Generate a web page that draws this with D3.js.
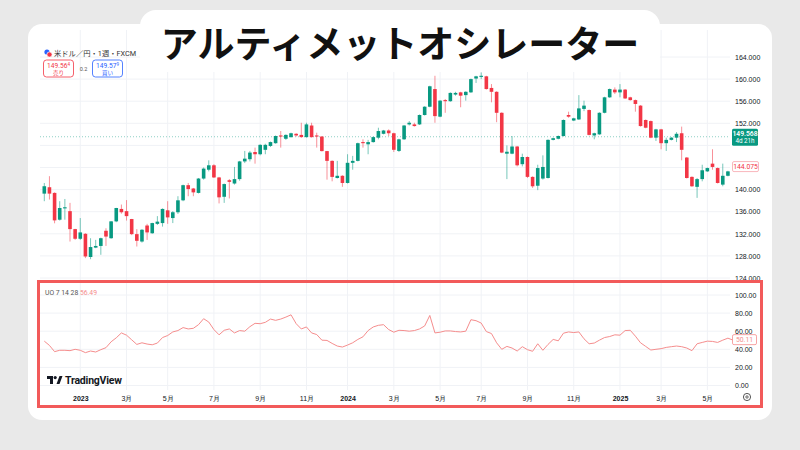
<!DOCTYPE html>
<html lang="ja">
<head>
<meta charset="utf-8">
<title>アルティメットオシレーター</title>
<script src="https://d3js.org/d3.v7.min.js"></script>
<style>
  body { margin: 0; background: #e9e9e9; }
  svg { display: block; font-family: Roboto, "Noto Sans CJK JP", sans-serif; }
</style>
</head>
<body>
<script>
// 米ドル/円 週足 (2022-11-14 の週から)
var opens  = [139.27,140.43,139.4,134.55,136.6,136.1,132.85,131.1,132.0,127.8,129.5,129.8,132.55,131.2,134.25,136.5,136.1,134.67,131.94,130.6,
              133.5,132.1,133.8,133.94,136.25,134.85,135.9,138.06,140.8,140.2,139.4,142.0,143.6,144.4,142.2,138.7,141.7,141.1,141.9,145.1,
              145.5,146.8,146.4,147.2,147.9,148.4,149.8,149.2,149.5,150.1,149.9,149.5,151.6,149.8,149.6,146.97,145.2,142.1,142.5,141.2,
              144.85,145.2,148.6,148.2,148.6,149.4,150.1,150.7,150.2,147.0,149.1,151.8,151.8,151.8,153.5,155.0,158.2,153.2,156.2,156.0,
              157.2,157.6,157.1,157.6,160.1,160.4,160.5,158.4,157.7,153.9,146.5,146.5,147.8,144.6,145.9,142.3,140.7,142.0,142.1,149.0,
              149.2,149.7,153.5,152.5,152.7,154.6,154.4,149.8,150.0,153.9,156.7,158.1,157.6,158.1,156.7,156.2,155.2,152.6,152.4,149.4,
              150.9,148.4,149.0,149.4,150.2,145.8,142.3,140.5,141.9,143.3,144.7,143.9,140.9,142.5,144.3];
var highs  = [141.2,142.43,139.5,137.9,138.3,137.6,132.9,134.85,132.1,131.2,130.9,131.3,133.0,134.3,136.7,137.3,138.1,134.7,132.85,132.85,
              133.8,134.0,135.2,136.6,137.9,136.1,138.8,140.9,141.2,140.3,142.1,144.0,145.3,144.6,142.3,141.1,141.9,144.1,145.2,147.0,
              147.0,147.6,148.2,148.3,148.7,149.8,150.6,150.0,150.3,150.2,152.1,152.1,152.1,150.3,149.7,147.0,145.3,145.2,142.6,146.4,
              146.1,148.5,149.1,149.0,149.6,151.2,150.8,150.9,150.3,149.2,151.7,152.4,152.1,153.6,155.1,158.8,160.6,156.2,156.4,157.6,
              157.7,157.7,157.8,160.1,160.6,161.2,160.6,159.1,157.8,154.0,148.0,149.7,147.9,146.5,146.0,142.4,144.5,146.2,149.1,149.4,
              149.8,152.7,154.1,153.0,157.1,156.1,154.5,150.3,154.0,156.8,158.3,158.5,159.1,158.2,156.8,156.3,155.3,152.7,152.5,151.0,
              151.0,149.4,149.5,150.4,151.4,145.9,142.4,142.1,144.5,144.0,147.3,144.0,144.7,143.4,144.4];
var lows   = [137.9,138.2,133.9,134.4,134.55,130.6,130.9,130.9,127.6,127.4,129.4,128.2,129.8,131.1,134.1,135.64,134.4,131.76,129.7,130.4,
              130.9,132.0,133.6,133.3,133.8,133.94,135.6,137.9,138.8,138.8,139.3,141.8,143.3,142.1,137.5,137.6,138.4,140.9,141.6,144.8,
              145.1,144.7,146.2,146.4,147.7,148.3,147.6,149.0,149.4,149.6,149.4,149.4,149.4,147.6,146.9,141.8,141.5,142.0,140.5,141.1,
              143.6,145.1,147.6,146.4,148.5,149.1,150.0,149.7,146.8,146.8,149.0,151.6,151.4,151.7,153.4,154.9,152.1,153.1,153.9,155.9,
              157.0,154.9,156.1,157.5,159.3,160.0,158.1,155.8,152.2,146.6,141.9,146.4,144.2,144.2,142.1,140.3,139.9,141.8,142.0,148.9,
              149.1,149.6,153.0,152.4,152.6,154.2,149.8,149.1,149.9,153.8,156.6,157.3,156.7,156.4,156.1,154.1,151.4,151.1,149.3,148.8,
              147.3,147.0,148.9,148.6,145.3,142.0,140.5,138.5,141.5,143.2,143.6,141.1,140.6,142.4,143.9];
var closes = [140.61,139.27,134.43,136.67,136.8,132.85,131.1,132.25,127.9,129.6,129.8,131.2,131.5,134.25,136.67,135.9,135.2,131.94,130.73,132.73,
              132.25,133.94,134.2,136.5,134.97,135.9,138.06,140.8,140.1,139.5,142.0,143.8,144.4,142.2,138.6,141.0,141.4,141.9,145.1,145.6,
              146.7,146.4,148.1,148.1,148.6,149.7,149.6,149.9,150.2,149.8,149.5,151.8,149.5,149.6,146.97,145.2,142.3,142.5,141.2,144.85,
              145.2,148.4,148.4,148.6,149.5,150.6,150.7,150.2,147.2,149.1,151.6,152.1,151.5,153.5,155.0,158.7,153.3,156.1,156.0,157.5,
              157.5,157.0,157.7,160.0,160.5,160.6,158.2,157.7,153.9,146.7,146.85,147.8,144.4,145.9,142.3,140.6,143.9,144.1,149.0,149.3,
              149.7,152.6,153.2,152.9,154.7,155.2,149.9,150.2,153.9,156.7,158.2,157.6,158.1,156.5,156.2,155.5,151.5,151.2,149.4,150.9,
              148.4,149.0,149.4,150.1,147.2,142.1,140.6,141.9,143.5,143.9,144.1,141.2,142.5,143.3,144.075];
// アルティメットオシレーター (7, 14, 28)
var uo = [49.0,44.3,37.4,38.9,38.9,38.5,40.0,38.9,36.3,38.1,37.0,39.6,41.8,48.3,52.7,58.1,55.6,50.5,45.4,47.2,
          45.8,45.0,46.9,53.0,55.2,59.2,60.7,64.0,62.5,63.2,67.2,73.8,70.1,61.8,56.0,61.0,62.5,58.1,60.7,60.0,
          65.0,68.7,68.3,69.8,73.4,72.0,73.4,75.6,78.1,68.3,62.5,64.7,58.1,56.3,50.1,49.8,46.5,43.6,42.5,44.7,
          47.2,50.9,53.8,60.7,64.7,66.5,67.2,61.8,58.9,61.0,60.7,60.0,60.7,62.5,65.8,77.4,58.1,58.9,60.3,60.3,
          59.6,59.2,60.0,72.7,71.6,69.0,59.6,57.4,47.2,40.0,43.2,41.4,38.1,42.9,39.6,37.8,46.1,38.9,45.4,50.9,
          49.4,57.8,59.2,58.5,59.2,51.6,46.1,46.9,50.1,53.0,54.1,56.0,55.6,60.7,61.0,54.5,47.2,43.2,39.2,40.0,
          40.7,42.1,42.9,43.6,42.9,41.4,38.5,46.1,47.6,49.0,48.7,47.6,50.1,52.3,50.11];

var priceTicks = [124,128,132,136,140,144,148,152,156,160,164];
var hiddenPriceTicks = [144,148];
var uoTicks = [0,20,40,60,80,100];
var firstWeek = new Date(2022, 10, 14);
var lastPrice = 149.568, lastClose = 144.075, uoHeader = 56.49;

var up = "#089981", down = "#f23645", uoColor = "#f58d8d", grid = "#f0f2f6";

var w = 800, h = 450;
var svg = d3.select("body").append("svg").attr("width", w).attr("height", h);

svg.append("rect").attr("width", w).attr("height", h).attr("fill", "#e9e9e9");
svg.append("rect").attr("x", 28).attr("y", 24).attr("width", 744).attr("height", 396)
  .attr("rx", 14).attr("fill", "#fff");

var N = opens.length;
var weeks = d3.timeMonday.range(firstWeek, d3.timeMonday.offset(firstWeek, N));
var bars = d3.range(N);

var x = d3.scaleTime().domain([weeks[0], weeks[N - 1]]).range([44.3, 44.3 + (N - 1) * 5.14]);
var yP = d3.scaleLinear().domain([124, 164]).range([278, 57]);
var yU = d3.scaleLinear().domain([0, 100]).range([385.5, 295]);

// 月初の週 (奇数月) に目盛り
var monthTicks = weeks.filter(function(d, i) {
  return i > 0 && d.getMonth() !== weeks[i - 1].getMonth() && d.getMonth() % 2 === 0;
});

// grid
var gridG = svg.append("g").attr("stroke", grid).attr("stroke-width", 1);
gridG.selectAll("line.v").data(monthTicks).join("line").attr("class", "v")
  .attr("x1", d => x(d)).attr("x2", d => x(d)).attr("y1", 30).attr("y2", 390);
gridG.selectAll("line.p").data(priceTicks).join("line").attr("class", "p")
  .attr("x1", 40).attr("x2", 730).attr("y1", d => yP(d)).attr("y2", d => yP(d));
gridG.selectAll("line.u").data(uoTicks).join("line").attr("class", "u")
  .attr("x1", 40).attr("x2", 730).attr("y1", d => yU(d)).attr("y2", d => yU(d));

// last price line
svg.append("line").attr("x1", 40).attr("x2", 730).attr("y1", yP(lastPrice)).attr("y2", yP(lastPrice))
  .attr("stroke", up).attr("stroke-opacity", 0.45).attr("stroke-dasharray", "1,2");

// candles
svg.append("clipPath").attr("id", "pane").append("rect")
  .attr("x", 40).attr("y", 30).attr("width", 690).attr("height", 250);
var candles = svg.append("g").attr("clip-path", "url(#pane)");
candles.selectAll("line").data(bars).join("line")
  .attr("x1", i => x(weeks[i])).attr("x2", i => x(weeks[i]))
  .attr("y1", i => yP(highs[i])).attr("y2", i => yP(lows[i]))
  .attr("stroke", i => closes[i] >= opens[i] ? up : down)
  .attr("stroke-opacity", 0.55);
candles.selectAll("rect").data(bars).join("rect")
  .attr("x", i => x(weeks[i]) - 1.8).attr("width", 3.6)
  .attr("y", i => yP(Math.max(opens[i], closes[i])))
  .attr("height", i => Math.max(1, Math.abs(yP(opens[i]) - yP(closes[i]))))
  .attr("fill", i => closes[i] >= opens[i] ? up : down);

// price axis
var pAxis = svg.append("g").attr("transform", "translate(733,0)")
  .call(d3.axisRight(yP).tickValues(priceTicks.filter(d => hiddenPriceTicks.indexOf(d) < 0))
    .tickFormat(d3.format(".3f")).tickSize(0).tickPadding(2));
pAxis.select(".domain").remove();
pAxis.selectAll("text").attr("font-size", 7).attr("fill", "#131722");

var lp = svg.append("g").attr("transform", "translate(732," + (yP(lastPrice) - 8) + ")");
lp.append("rect").attr("width", 26).attr("height", 17).attr("rx", 1.5).attr("fill", up);
lp.append("text").attr("x", 13).attr("y", 7).attr("text-anchor", "middle").attr("font-size", 6.8)
  .attr("fill", "#fff").attr("font-weight", 600).text(d3.format(".3f")(lastPrice));
lp.append("text").attr("x", 13).attr("y", 14.5).attr("text-anchor", "middle").attr("font-size", 6.3)
  .attr("fill", "#fff").text("4d 21h");

var lc = svg.append("g").attr("transform", "translate(732.5," + (yP(lastClose) - 5.5) + ")");
lc.append("rect").attr("width", 26).attr("height", 10).attr("rx", 1.5).attr("fill", "#fff")
  .attr("stroke", "#f7a5ab").attr("stroke-width", 0.8);
lc.append("text").attr("x", 13).attr("y", 7.5).attr("text-anchor", "middle").attr("font-size", 6.8)
  .attr("fill", down).text(d3.format(".3f")(lastClose));

// UO
var uoLine = d3.line().x((d, i) => x(weeks[i])).y(d => yU(d));
svg.append("path").datum(uo).attr("d", uoLine).attr("fill", "none")
  .attr("stroke", uoColor).attr("stroke-width", 1);

var uAxis = svg.append("g").attr("transform", "translate(733,0)")
  .call(d3.axisRight(yU).tickValues(uoTicks).tickFormat(d3.format(".2f")).tickSize(0).tickPadding(2));
uAxis.select(".domain").remove();
uAxis.selectAll("text").attr("font-size", 7).attr("fill", "#131722");

var ul = svg.append("g").attr("transform", "translate(732.5," + (yU(uo[N - 1]) - 5.5) + ")");
ul.append("rect").attr("width", 24).attr("height", 10).attr("rx", 1.5).attr("fill", "#fff")
  .attr("stroke", uoColor).attr("stroke-width", 0.8);
ul.append("text").attr("x", 12).attr("y", 7.5).attr("text-anchor", "middle").attr("font-size", 6.8)
  .attr("fill", uoColor).text(d3.format(".2f")(uo[N - 1]));

svg.append("text").attr("x", 45).attr("y", 294.5).attr("font-size", 6.8).attr("fill", "#555")
  .text("UO 7 14 28 ")
  .append("tspan").attr("fill", uoColor).text(d3.format(".2f")(uoHeader));

// time axis
var tAxis = svg.append("g").attr("transform", "translate(0,393)")
  .call(d3.axisBottom(x).tickValues(monthTicks)
    .tickFormat(d => d.getMonth() === 0 ? d.getFullYear() : (d.getMonth() + 1) + "月")
    .tickSize(0).tickPadding(3));
tAxis.select(".domain").remove();
tAxis.selectAll("text").attr("font-size", 7).attr("fill", "#131722")
  .attr("font-weight", d => d.getMonth() === 0 ? 700 : 400);

// settings icon
svg.append("circle").attr("cx", 747).attr("cy", 397).attr("r", 3.6)
  .attr("fill", "none").attr("stroke", "#444").attr("stroke-width", 0.9);
svg.append("circle").attr("cx", 747).attr("cy", 397).attr("r", 1.2)
  .attr("fill", "none").attr("stroke", "#444").attr("stroke-width", 0.8);

// TradingView logo
var logo = svg.append("g").attr("transform", "translate(47,376)");
logo.append("path").attr("d", "M0,0H6V8H3V3H0Z").attr("fill", "#131722");
logo.append("circle").attr("cx", 8.2).attr("cy", 1.6).attr("r", 1.6).attr("fill", "#131722");
logo.append("path").attr("d", "M9.5,8L12.5,0H15.5L12.5,8Z").attr("fill", "#131722");
logo.append("text").attr("x", 18).attr("y", 8.2).attr("font-size", 10.5).attr("font-weight", 700)
  .attr("fill", "#131722").attr("letter-spacing", -0.2).text("TradingView");

// highlight frame around the indicator pane
svg.append("rect").attr("x", 38.5).attr("y", 281.5).attr("width", 723).attr("height", 125)
  .attr("fill", "none").attr("stroke", "#f25a5a").attr("stroke-width", 3);

// header
svg.append("circle").attr("cx", 47).attr("cy", 52).attr("r", 2.6).attr("fill", "#2962ff");
svg.append("circle").attr("cx", 49.5).attr("cy", 54.5).attr("r", 2.6).attr("fill", "#f23645")
  .attr("stroke", "#fff").attr("stroke-width", 0.7);
svg.append("text").attr("x", 54).attr("y", 55.5).attr("font-size", 7.3).attr("fill", "#333")
  .text("米ドル／円・1週・FXCM");

function quote(x0, color, price, small, label) {
  var g = svg.append("g").attr("transform", "translate(" + x0 + ",60)");
  g.append("rect").attr("width", 30).attr("height", 17).attr("rx", 3).attr("fill", "#fff")
    .attr("stroke", color).attr("stroke-width", 0.8);
  var t = g.append("text").attr("x", 15).attr("y", 7.5).attr("text-anchor", "middle")
    .attr("font-size", 6.6).attr("fill", color).text(price);
  t.append("tspan").attr("font-size", 4.5).attr("dy", -2).text(small);
  g.append("text").attr("x", 15).attr("y", 14.5).attr("text-anchor", "middle")
    .attr("font-size", 5.5).attr("fill", color).text(label);
}
quote(43.5, down, "149.56", "4", "売り");
svg.append("text").attr("x", 83.5).attr("y", 70.5).attr("text-anchor", "middle")
  .attr("font-size", 5.5).attr("fill", "#555").text("0.2");
quote(92.5, "#2962ff", "149.57", "9", "買い");

// title
svg.append("rect").attr("x", 140).attr("y", 10).attr("width", 520).attr("height", 62)
  .attr("rx", 16).attr("fill", "#fff");
svg.append("text").attr("x", 400).attr("y", 42).attr("text-anchor", "middle")
  .attr("dominant-baseline", "central").attr("font-size", 37).attr("font-weight", 700)
  .attr("font-family", "'Noto Sans CJK JP', sans-serif").attr("fill", "#111")
  .text("アルティメットオシレーター");
</script>
</body>
</html>
